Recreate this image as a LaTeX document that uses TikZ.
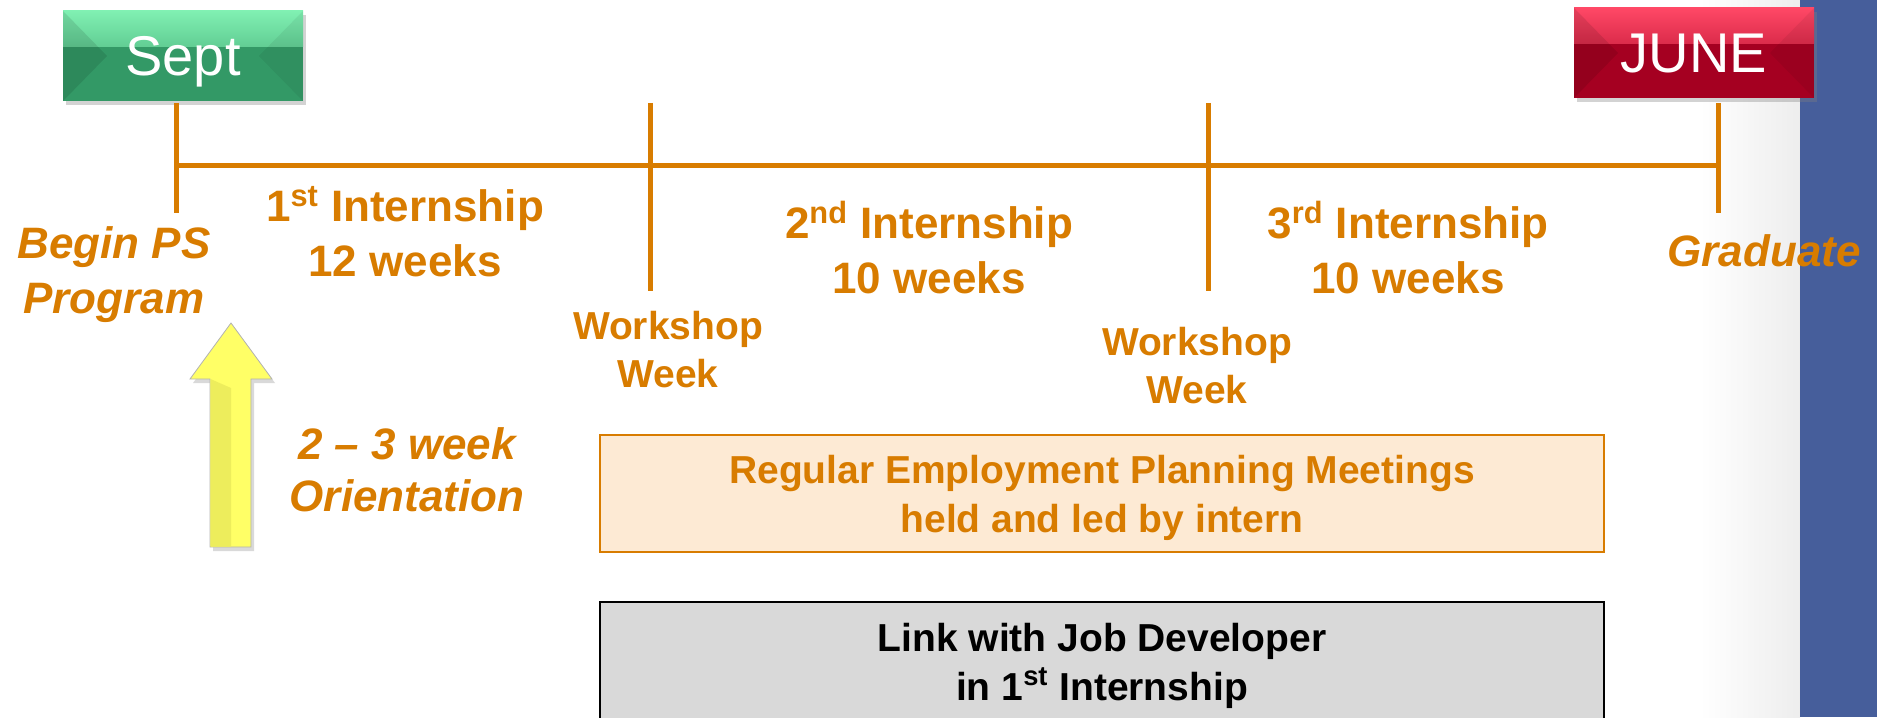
\documentclass[tikz,border=0pt]{standalone}
\usepackage{fontspec}
\setmainfont{Liberation Sans}
\usetikzlibrary{positioning,shadows}

\definecolor{psorange}{HTML}{D87C00}
\definecolor{pspeach}{HTML}{FDEAD4}
\definecolor{psgray}{HTML}{D9D9D9}
\definecolor{psblue}{HTML}{465E9B}
\definecolor{sepbase}{HTML}{339966}
\definecolor{septop}{HTML}{80F0B2}
\definecolor{junebase}{HTML}{A50021}
\definecolor{junetop}{HTML}{FF4866}
\definecolor{arrowyel}{HTML}{FFFF66}
\definecolor{arrowdark}{HTML}{EDED5C}

\tikzset{
	month/.style 2 args={fill=#1, minimum width=120pt, minimum height=45pt, inner sep=0pt,
		text=white, text depth=0pt, font=\fontsize{28}{32}\selectfont,
		drop shadow={opacity=.35, shadow xshift=1.5pt, shadow yshift=-2pt},
		path picture={
			\shade[top color=#2, bottom color=#1] (path picture bounding box.north west) rectangle ([yshift=-18pt]path picture bounding box.north east);
			\fill[black, opacity=.1] (path picture bounding box.north west) -- ([xshift=22pt]path picture bounding box.west) -- (path picture bounding box.south west) -- cycle;
			\fill[black, opacity=.06] (path picture bounding box.north east) -- ([xshift=-22pt]path picture bounding box.east) -- (path picture bounding box.south east) -- cycle;
		}},
	tl/.style={psorange, line width=2.5pt},
	lbl/.style={text=psorange, align=center, inner sep=0pt, font=\bfseries\fontsize{22}{27.5}\selectfont},
	slant/.style={lbl, font=\bfseries\itshape\fontsize{22}{27.5}\selectfont},
	ws/.style={lbl, font=\bfseries\fontsize{19.5}{24}\selectfont},
	meetbox/.style={draw=psorange, fill=pspeach, line width=1pt, minimum width=502pt, minimum height=58.5pt,
		align=center, text depth=0pt, text=psorange, font=\bfseries\fontsize{19.5}{24.5}\selectfont},
	jobbox/.style={meetbox, draw=black, fill=psgray, text=black, minimum height=60pt}
}

\begin{document}
\begin{tikzpicture}[x=0.5pt, y=-0.5pt]
	\clip (0,0) rectangle (1877,717);
	\shade [left color=white, right color=black!7] (1700,0) rectangle (1800,717);
	\fill [psblue] (1800,0) rectangle (1877,717);

	% timeline points
	\coordinate (tl0) at (176,165);
	\coordinate (tl3) at (1718,165);
	\coordinate (ta0) at (176,103);
	\coordinate (tb0) at (176,213);
	\coordinate (ta1) at (650,103);
	\coordinate (tb1) at (650,291);
	\coordinate (ta2) at (1208,103);
	\coordinate (tb2) at (1208,291);
	\coordinate (ta3) at (1718,103);
	\coordinate (tb3) at (1718,213);

	\node[month={sepbase}{septop}] (sept) at (183,56) {Sept};
	\node[month={junebase}{junetop}] (june) at (1694,53) {JUNE};

	\node[lbl, anchor=north] (int1) at (405,186) {1\textsuperscript{st} Internship\\12 weeks};
	\node[lbl, anchor=north] (int2) at (929,201) {2\textsuperscript{nd} Internship\\10 weeks};
	\node[lbl, anchor=north] (int3) at (1408,201) {3\textsuperscript{rd} Internship\\10 weeks};
	\node[slant] (begin) [below=6.5pt of tb0, xshift=-31pt] {Begin PS\\Program};
	\node[slant] (grad) [below=10.5pt of tb3, xshift=23pt] {Graduate};
	\node[ws] (ws1) [below=10pt of tb1, xshift=9pt] {Workshop\\Week};
	\node[ws] (ws2) [below=18pt of tb2, xshift=-5.5pt] {Workshop\\Week};
	\node[slant, anchor=north, font=\bfseries\itshape\fontsize{22}{26}\selectfont] (orient) at (407,427) {2 – 3 week\\Orientation};

	\node[meetbox] (meet) at (1102,493.5) {Regular Employment Planning Meetings\\held and led by intern};
	\node[jobbox] (job) at (1102,662) {Link with Job Developer\\in 1\textsuperscript{st} Internship};

	\path [draw, tl] (tl0) -- (tl3);
	\foreach \k in {0,...,3}
		\path [draw, tl] (ta\k) -- (tb\k);

	% orientation arrow
	\filldraw [fill=arrowyel, draw=black!30, line width=0.4pt, drop shadow={opacity=.3, shadow xshift=1.5pt, shadow yshift=-2pt}]
		(210,547) -- (210,379) -- (190,379) -- (231,323) -- (272,379) -- (251,379) -- (251,547) -- cycle;
	\fill [arrowdark] (210.5,546.5) -- (210.5,379) -- (231,388) -- (231,546.5) -- cycle;
\end{tikzpicture}
\end{document}
